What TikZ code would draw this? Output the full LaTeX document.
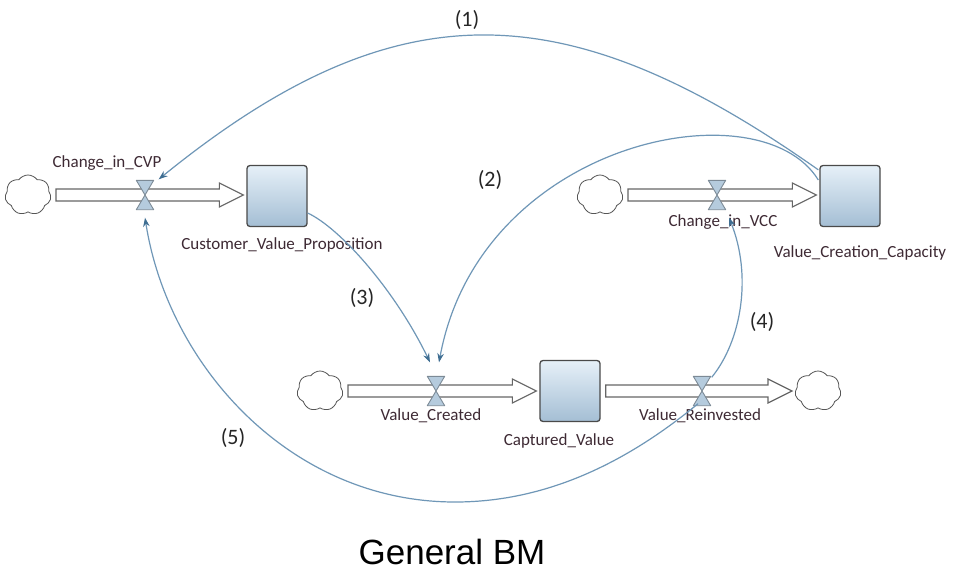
\documentclass[tikz,border=0pt]{standalone}
\usepackage{fontspec}
\setmainfont{Carlito}
\newfontfamily\arialfont{Liberation Sans}
\usetikzlibrary{arrows.meta,shapes.symbols,calc}
\definecolor{arcblue}{HTML}{6F97B7}
\definecolor{arrowblue}{HTML}{3F6E92}
\definecolor{stocktop}{HTML}{E6F0F8}
\definecolor{stockbot}{HTML}{A4BED4}
\definecolor{stockline}{HTML}{4A4A4A}
\definecolor{pipeline}{HTML}{666666}
\definecolor{valvefill}{HTML}{B5CBDD}
\definecolor{valveline}{HTML}{7C8A96}
\definecolor{cloudline}{HTML}{555555}
\definecolor{lblcolor}{HTML}{3E2A34}
\newcommand\flowpipe[2]{\draw[pipe] let \p1=(#1.east), \p2=(#2.west), \p3=(#1.center) in
  (\x1+5pt,\y3+6pt) -- (\x2-27pt,\y3+6pt) -- (\x2-27pt,\y3+12pt) -- (\x2-3pt,\y3)
  -- (\x2-27pt,\y3-12pt) -- (\x2-27pt,\y3-6pt) -- (\x1+5pt,\y3-6pt) -- cycle;}
\newcommand\valvedraw[1]{\filldraw[valveshape] (#1.north west) -- (#1.north east) -- (#1.center) -- cycle
  (#1.south west) -- (#1.south east) -- (#1.center) -- cycle;}
\begin{document}
\begin{tikzpicture}[x=1pt,y=-1pt,
  stockbox/.style={draw=stockline, line width=1.3pt, rounded corners=3pt, top color=stocktop,
    bottom color=stockbot, minimum width=60pt, minimum height=61pt, inner sep=0pt},
  cloudnode/.style={cloud, cloud puffs=7, cloud puff arc=110, aspect=1.15, draw=cloudline, fill=white,
    line width=0.8pt, minimum width=46pt, minimum height=40pt, inner sep=0pt},
  valvebox/.style={minimum width=17pt, minimum height=29pt, inner sep=0pt},
  valveshape/.style={fill=valvefill, draw=valveline, line width=0.9pt, line join=round},
  pipe/.style={draw=pipeline, fill=white, line width=1.2pt, line join=miter},
  lbl/.style={font=\fontsize{17}{19}\selectfont, text=lblcolor, inner sep=0pt},
  num/.style={font=\fontsize{22}{24}\selectfont, text=black!85, inner sep=0pt},
  link/.style={draw=arcblue, line width=1.2pt, -{Stealth[length=9pt,width=6.5pt,color=arrowblue]}}]
\useasboundingbox (0,0) rectangle (960,570);
\fill[white] (0,0) rectangle (960,570);

% clouds
\node[cloudnode] (c1) at (28,195) {};
\node[cloudnode] (c2) at (600,195) {};
\node[cloudnode] (c3) at (320,391) {};
\node[cloudnode] (c4) at (818,391) {};

% stocks
\node[stockbox] (s1) at (277,196) {};
\node[stockbox] (s2) at (850,196) {};
\node[stockbox] (s3) at (570,391) {};

% valves (positions)
\node[valvebox] (v1) at (145,195) {};
\node[valvebox] (v2) at (717,195) {};
\node[valvebox] (v3) at (436,391) {};
\node[valvebox] (v4) at (702,391) {};

% pipes
\flowpipe{c1}{s1}
\flowpipe{c2}{s2}
\flowpipe{c3}{s3}
\flowpipe{s3}{c4}

% valve glyphs
\valvedraw{v1}
\valvedraw{v2}
\valvedraw{v3}
\valvedraw{v4}

% labels
\node[lbl] (l1) at (107,163) {Change\_in\_CVP};
\node[lbl] (l2) at (282,245) {Customer\_Value\_Proposition};
\node[lbl] (l3) at (723,222) {Change\_in\_VCC};
\node[lbl] (l4) at (860,253) {Value\_Creation\_Capacity};
\node[lbl] (l5) at (431,416) {Value\_Created};
\node[lbl] (l6) at (700,416) {Value\_Reinvested};
\node[lbl] (l7) at (559,441) {Captured\_Value};

% causal links
\draw[link] ($(s2.north west)+(-1,5)$) .. controls (566,-8) and (397,-14) .. ($(v1.north east)+(5,-1)$);
\draw[link] ($(s2.west)+(-1,-16)$) .. controls (760,85) and (480,140) .. ($(v3.north)+(3,-14)$);
\draw[link] ($(s1.east)+(0,17)$) .. controls (340,228) and (395,290) .. ($(v3.north)+(-6,-14)$);
\draw[link] ($(v4.north east)+(1,1)$) .. controls (742,340) and (752,275) .. ($(v2.south)+(12,8)$);
\draw[link] ($(v4.south)+(-4,-2)$) .. controls (620,468) and (540,502) .. (455,502)
  .. controls (290,502) and (168,365) .. ($(v1.south)+(0,8)$);

% loop numbers
\node[num] (n1) at (467,20) {(1)};
\node[num] (n2) at (490,180) {(2)};
\node[num] (n3) at (362,298) {(3)};
\node[num] (n4) at (762,322) {(4)};
\node[num] (n5) at (233,438) {(5)};

% caption
\node[font=\arialfont\fontsize{35}{38}\selectfont, inner sep=0pt] (cap) at (452,552) {General BM};
\end{tikzpicture}
\end{document}
